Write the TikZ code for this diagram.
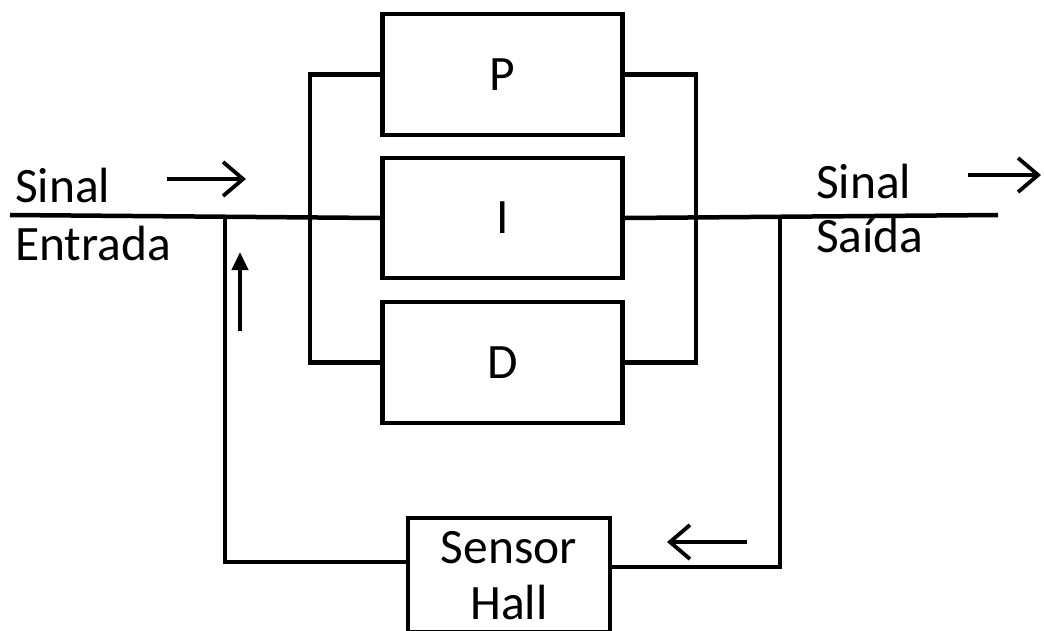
\documentclass[tikz,border=0pt]{standalone}
\usepackage{fontspec}
\setmainfont{Carlito}
\usetikzlibrary{arrows.meta,calc}
\begin{document}
\begin{tikzpicture}[x=1pt,y=-1pt,
  wire/.style={line width=4.5pt},
  blk/.style={draw,line width=4.5pt,minimum width=240pt,inner sep=0pt},
  lbl/.style={font=\fontsize{49.5}{58}\selectfont,inner sep=0pt},
  sig/.style={line width=3.8pt,-{Straight Barb[length=20pt,width=34pt,line width=3.8pt]}},
  fbarrow/.style={line width=4pt,-{Triangle[length=18pt,width=16pt]}}]
\useasboundingbox (0,0) rectangle (1044,630);
\fill[white] (0,0) rectangle (1044,630);
% blocks
\node[blk,lbl,minimum height=121pt] (P) at (502.5,74.5) {P};
\node[blk,lbl,minimum height=120pt] (I) at (502.5,218) {I};
\node[blk,lbl,minimum height=121pt] (D) at (502.5,362.5) {D};
\node[draw,line width=4.5pt,minimum width=202pt,minimum height=114pt,inner sep=0pt] (S) at (509,575) {};
\node[lbl,anchor=base] (sen) at (509,563) {Sensor};
\node[lbl,anchor=base] (hall) at (509,619) {Hall};
% labels
\node[lbl,anchor=base west] (sinIn) at (15,202) {Sinal};
\node[lbl,anchor=base west] (entr) at (15,260) {Entrada};
\node[lbl,anchor=base west] (sinOut) at (816,198) {Sinal};
\node[lbl,anchor=base west] (saida) at (816,252) {Saída};
% coordinates
\coordinate (inL) at (10,215);
\coordinate (outR) at (998,215);
\coordinate (jA) at (225,215);
\coordinate (bL) at (310,215);
\coordinate (bR) at (696,215);
\coordinate (jB) at (780,215);
% wires
\draw[wire] (inL) -- (I.west);
\draw[wire] (I.east) -- (outR);
\draw[wire] (P.west) -| (bL |- D.west) -- (D.west);
\draw[wire] (P.east) -| (bR |- D.east) -- (D.east);
\draw[wire] (jB) |- ($(S.east)+(0,-8)$);
\draw[wire] ($(S.west)+(0,-13)$) -| (jA);
% arrows
\coordinate (a1s) at (167,179); \coordinate (a1e) at (246,179);
\coordinate (a2s) at (968,175); \coordinate (a2e) at (1041,175);
\coordinate (a3s) at (747,542); \coordinate (a3e) at (667,542);
\coordinate (a4s) at (240,331); \coordinate (a4e) at (240,252);
\draw[sig] (a1s) -- (a1e);
\draw[sig] (a2s) -- (a2e);
\draw[sig] (a3s) -- (a3e);
\draw[fbarrow] (a4s) -- (a4e);
\end{tikzpicture}
\end{document}
